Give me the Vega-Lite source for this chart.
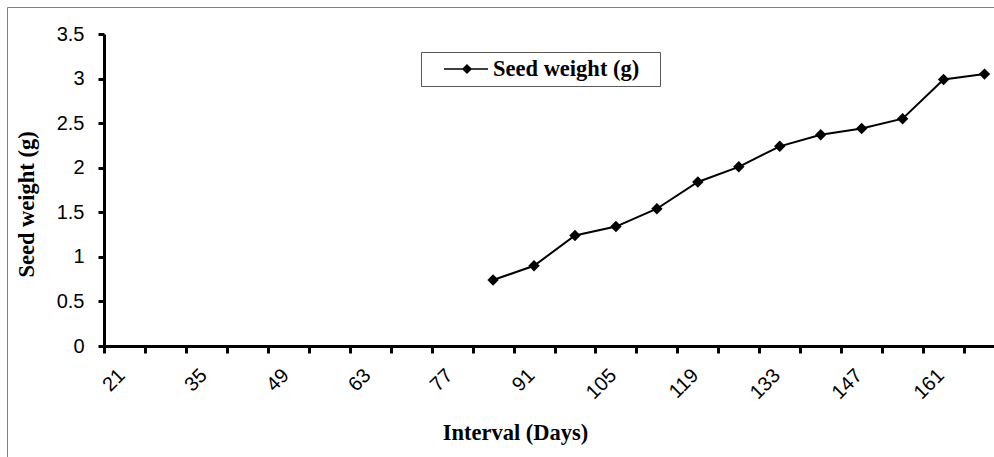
{
  "$schema": "https://vega.github.io/schema/vega-lite/v6.json",
  "width": 1000,
  "height": 460,
  "autosize": {"type": "none"},
  "padding": {"left": 7, "top": 7, "right": 0, "bottom": 0},
  "background": "white",
  "config": {"view": {"stroke": "#808080", "strokeWidth": 1, "fill": "white"}},
  "data": {
    "values": [
      {"day": 84, "weight": 0.74, "series": "Seed weight (g)"},
      {"day": 91, "weight": 0.9, "series": "Seed weight (g)"},
      {"day": 98, "weight": 1.24, "series": "Seed weight (g)"},
      {"day": 105, "weight": 1.34, "series": "Seed weight (g)"},
      {"day": 112, "weight": 1.54, "series": "Seed weight (g)"},
      {"day": 119, "weight": 1.84, "series": "Seed weight (g)"},
      {"day": 126, "weight": 2.01, "series": "Seed weight (g)"},
      {"day": 133, "weight": 2.24, "series": "Seed weight (g)"},
      {"day": 140, "weight": 2.37, "series": "Seed weight (g)"},
      {"day": 147, "weight": 2.44, "series": "Seed weight (g)"},
      {"day": 154, "weight": 2.55, "series": "Seed weight (g)"},
      {"day": 161, "weight": 2.99, "series": "Seed weight (g)"},
      {"day": 168, "weight": 3.05, "series": "Seed weight (g)"}
    ]
  },
  "encoding": {
    "x": {
      "field": "day",
      "type": "ordinal",
      "sort": null,
      "scale": {
        "type": "band",
        "domain": [21, 28, 35, 42, 49, 56, 63, 70, 77, 84, 91, 98, 105, 112, 119, 126, 133, 140, 147, 154, 161, 168],
        "range": [97, 998],
        "paddingInner": 0,
        "paddingOuter": 0
      },
      "axis": {
        "title": "Interval (Days)",
        "titleFont": "Liberation Serif",
        "titleFontWeight": "bold",
        "titleFontSize": 22.5,
        "titleColor": "black",
        "titleX": 508,
        "titleY": 93,
        "titleAlign": "center",
        "titleBaseline": "alphabetic",
        "offset": -121,
        "domainColor": "black",
        "domainWidth": 3,
        "tickColor": "black",
        "tickWidth": 3,
        "tickSize": 7,
        "tickBand": "extent",
        "labelFont": "Liberation Sans",
        "labelFontSize": 20,
        "labelColor": "black",
        "labelAngle": -45,
        "labelAlign": "right",
        "labelBaseline": "middle",
        "labelPadding": 19,
        "labelOffset": -3,
        "labelOverlap": false,
        "labelExpr": "(datum.value - 21) % 14 == 0 ? datum.label : ''",
        "grid": false
      }
    },
    "y": {
      "field": "weight",
      "type": "quantitative",
      "scale": {"domain": [0, 3.5], "range": [339, 27], "nice": false, "zero": true},
      "axis": {
        "title": "Seed weight (g)",
        "titleFont": "Liberation Serif",
        "titleFontWeight": "bold",
        "titleFontSize": 22.5,
        "titleColor": "black",
        "titleAngle": -90,
        "titleX": -71,
        "titleY": 197,
        "titleAlign": "center",
        "titleBaseline": "alphabetic",
        "offset": -97,
        "values": [0, 0.5, 1, 1.5, 2, 2.5, 3, 3.5],
        "format": "~g",
        "domainColor": "black",
        "domainWidth": 3,
        "tickColor": "black",
        "tickWidth": 3,
        "tickSize": 6,
        "labelFont": "Liberation Sans",
        "labelFontSize": 20,
        "labelColor": "black",
        "labelPadding": 14,
        "grid": false
      }
    },
    "color": {
      "field": "series",
      "type": "nominal",
      "scale": {"range": ["black"]},
      "legend": {
        "title": null,
        "orient": "none",
        "legendX": 414,
        "legendY": 45,
        "padding": 5,
        "strokeColor": "#5a5a5a",
        "fillColor": "white",
        "labelFont": "Liberation Serif",
        "labelFontWeight": "bold",
        "labelFontSize": 22.5,
        "labelColor": "black",
        "labelOffset": 43,
        "labelLimit": 400,
        "symbolType": "M-1,0M19.45,0M0.545,0L4.545,0M2.272,0L2.636,-0.364L3,0L2.636,0.364Z",
        "symbolSize": 484,
        "symbolStrokeWidth": 1.5,
        "symbolFillColor": "black",
        "symbolStrokeColor": "black",
        "encode": {
          "symbols": {
            "update": {
              "shape": {"value": "M-1,0M19.45,0M0.545,0L4.545,0M2.272,0L2.636,-0.364L3,0L2.636,0.364Z"},
              "size": {"value": 484},
              "fill": {"value": "black"},
              "stroke": {"value": "black"},
              "strokeWidth": {"value": 1.5},
              "opacity": {"value": 1}
            }
          }
        }
      }
    }
  },
  "layer": [
    {"mark": {"type": "line", "strokeWidth": 2}},
    {"mark": {"type": "point", "shape": "diamond", "filled": true, "size": 130, "opacity": 1, "strokeWidth": 1}}
  ]
}
